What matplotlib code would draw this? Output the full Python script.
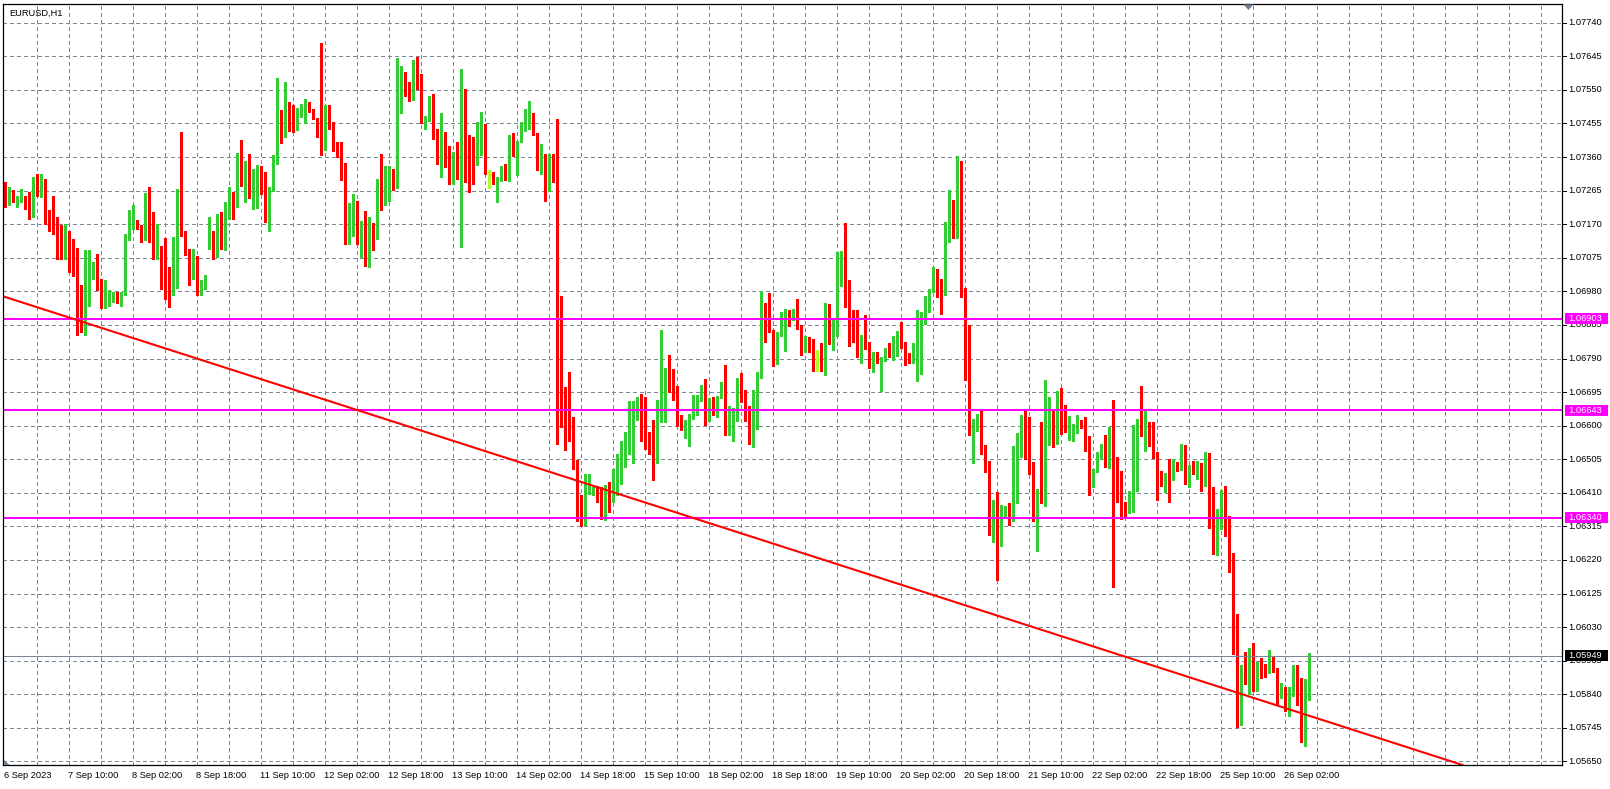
import matplotlib
matplotlib.use("Agg")
import matplotlib.pyplot as plt
import matplotlib.transforms as mtransforms
from matplotlib.patches import Rectangle, Polygon
import numpy as np

# ---------------- data (EURUSD H1, values in pips above BASE) ----------------
BASE = 1.05
PIP = 0.0001

opens_pips = [
    227.2, 225.5, 225.9, 222.0, 223.4, 224.5, 223.2, 221.4, 230.3, 227.0,
    229.2, 218.5, 218.1, 216.0, 214.3, 209.3, 214.1, 205.8, 204.6, 192.8,
    190.9, 202.7, 203.0, 203.0, 198.5, 193.4, 194.5, 195.9, 195.7, 195.0,
    196.9, 213.2, 216.4, 217.4, 216.0, 212.9, 223.7, 215.2, 208.0, 210.8,
    202.3, 200.2, 198.6, 201.8, 227.0, 214.8, 208.2, 203.7, 205.2, 197.1,
    198.8, 213.5, 214.0, 210.8, 215.9, 212.4, 218.7, 223.7, 222.1, 235.0,
    228.7, 232.1, 225.1, 226.5, 232.1, 231.3, 219.3, 226.5, 234.7, 244.9,
    242.0, 250.0, 245.0, 244.4, 248.2, 245.5, 249.6, 249.3, 246.8, 243.5,
    240.4, 250.5, 245.6, 238.6, 236.4, 231.7, 212.7, 213.8, 221.6, 215.5,
    217.4, 205.8, 217.1, 213.0, 225.3, 222.5, 225.1, 231.9, 227.2, 249.9,
    257.9, 255.4, 252.2, 258.5, 257.3, 245.6, 246.6, 251.7, 243.8, 236.4,
    242.8, 235.0, 229.1, 237.2, 235.9, 247.0, 238.1, 237.8, 236.2, 239.7,
    243.9, 231.0, 231.5, 227.9, 229.6, 232.4, 232.4, 239.7, 236.2, 240.2,
    243.9, 246.6, 247.2, 242.5, 232.4, 233.3, 227.9, 234.0, 230.3, 176.1,
    164.3, 163.4, 158.7, 147.8, 136.1, 133.0, 142.2, 140.5, 142.8, 142.2,
    134.2, 141.7, 138.9, 142.7, 146.9, 152.7, 155.6, 160.1, 163.1, 165.3,
    162.4, 155.8, 154.4, 149.9, 161.5, 163.9, 171.9, 171.9, 170.9, 160.3,
    158.9, 158.7, 162.2, 163.4, 167.6, 171.2, 161.8, 164.8, 162.7, 168.4,
    169.0, 157.4, 161.8, 163.1, 172.1, 167.8, 162.9, 156.1, 162.2, 174.2,
    193.5, 191.9, 187.0, 177.5, 185.7, 182.0, 191.4, 190.9, 191.6, 188.2,
    183.2, 184.1, 182.2, 179.0, 179.2, 177.8, 193.3, 184.8, 188.8, 199.8,
    208.3, 198.7, 191.2, 189.1, 182.2, 184.3, 183.8, 176.4, 180.1, 170.0,
    178.2, 181.6, 180.6, 184.1, 185.7, 182.2, 179.1, 177.8, 178.9, 181.0,
    189.8, 195.9, 198.0, 202.7, 201.1, 197.6, 216.1, 219.0, 213.0, 234.3,
    197.9, 185.7, 157.8, 158.7, 163.1, 154.6, 149.7, 130.7, 136.8, 126.7,
    136.1, 136.7, 133.9, 149.7, 154.5, 154.9, 153.0, 149.3, 134.9, 142.2,
    140.3, 159.2, 163.1, 155.2, 165.3, 161.1, 158.7, 156.1, 158.2, 160.9,
    159.6, 157.1, 142.7, 147.4, 150.9, 154.4, 148.0, 158.9, 146.9, 146.0,
    138.0, 135.2, 135.8, 155.2, 160.1, 157.7, 159.0, 155.2, 151.6, 146.4,
    143.1, 148.0, 144.6, 148.3, 147.7, 154.0, 146.0, 148.6, 147.4, 148.3,
    143.1, 145.5, 137.2, 125.0, 134.4, 137.3, 129.9, 121.9, 101.5, 76.7,
    90.2, 88.5, 94.6, 86.6, 92.1, 91.5, 90.8, 93.7, 91.1, 83.8,
    85.8, 79.5, 85.2, 91.8, 86.6, 71.1, 84.7,
]

highs_pips = [
    228.9, 227.5, 226.6, 225.1, 227.0, 225.0, 226.1, 230.3, 231.3, 231.3,
    229.8, 220.9, 225.1, 219.0, 216.7, 217.1, 215.2, 212.9, 210.3, 199.7,
    209.6, 209.6, 206.3, 208.7, 201.6, 201.1, 198.3, 197.8, 197.8, 197.8,
    214.3, 220.9, 222.5, 218.1, 216.7, 225.8, 227.5, 220.4, 217.1, 210.8,
    213.2, 204.9, 213.4, 227.0, 243.2, 215.2, 210.1, 210.1, 208.0, 201.1,
    202.5, 219.0, 215.2, 220.0, 220.4, 223.3, 227.5, 226.1, 237.1, 240.8,
    235.0, 236.9, 232.6, 233.7, 233.6, 231.7, 227.5, 236.6, 258.5, 249.4,
    257.3, 251.6, 250.7, 249.8, 251.0, 252.4, 251.5, 249.6, 247.0, 268.2,
    250.7, 250.7, 245.8, 240.2, 240.2, 234.3, 223.0, 225.6, 223.7, 218.0,
    220.6, 219.0, 217.4, 229.8, 236.9, 233.6, 233.6, 232.6, 264.0, 261.7,
    260.0, 257.1, 263.5, 264.2, 259.5, 247.7, 253.4, 253.8, 243.9, 248.5,
    243.0, 239.2, 237.4, 240.2, 260.9, 255.2, 242.2, 241.6, 245.8, 248.7,
    245.4, 232.2, 231.7, 230.3, 233.6, 234.0, 242.1, 242.8, 240.5, 246.0,
    249.6, 251.9, 248.5, 242.8, 239.7, 236.9, 236.9, 236.9, 246.8, 196.8,
    170.9, 175.2, 162.4, 150.2, 140.3, 146.4, 146.4, 142.7, 142.8, 142.7,
    143.1, 144.1, 147.8, 152.1, 155.8, 158.2, 167.1, 167.1, 168.1, 169.0,
    168.1, 158.2, 161.5, 167.4, 187.2, 176.3, 179.9, 175.9, 171.2, 163.1,
    161.5, 163.4, 168.8, 168.8, 171.6, 173.3, 167.8, 168.1, 168.4, 172.3,
    177.2, 165.7, 165.0, 173.5, 175.0, 170.0, 165.7, 170.0, 175.3, 198.2,
    194.7, 197.6, 187.0, 186.5, 192.1, 193.0, 192.6, 193.1, 195.9, 188.4,
    185.5, 185.1, 184.6, 181.5, 183.5, 194.7, 194.5, 189.8, 209.1, 209.3,
    217.4, 201.1, 192.6, 192.6, 185.7, 191.2, 183.8, 180.8, 180.8, 179.4,
    182.0, 183.5, 185.5, 186.9, 189.3, 183.6, 180.6, 183.5, 192.6, 192.3,
    196.6, 198.7, 204.8, 204.4, 201.5, 217.7, 226.8, 223.9, 236.2, 235.0,
    199.0, 188.6, 162.0, 163.4, 164.1, 154.6, 149.9, 139.1, 141.3, 137.5,
    137.3, 138.2, 154.2, 157.8, 163.1, 164.3, 162.5, 149.7, 142.2, 160.9,
    173.0, 168.1, 164.3, 169.7, 170.7, 165.9, 162.7, 160.6, 162.9, 161.5,
    162.5, 157.1, 147.7, 152.6, 154.9, 157.3, 159.6, 167.4, 151.2, 147.1,
    138.4, 141.5, 160.3, 161.8, 171.2, 164.6, 161.0, 160.9, 152.6, 147.1,
    146.7, 150.7, 150.7, 149.7, 154.9, 154.6, 149.0, 149.9, 149.9, 149.5,
    152.5, 152.3, 142.6, 136.5, 141.7, 142.9, 134.4, 124.1, 106.6, 92.4,
    96.0, 97.0, 98.4, 93.0, 94.3, 92.7, 96.5, 94.6, 91.5, 87.1,
    86.1, 86.1, 92.4, 92.2, 88.5, 88.3, 95.8,
]

lows_pips = [
    221.8, 222.3, 223.3, 221.8, 223.4, 221.4, 218.4, 219.0, 225.1, 224.7,
    217.1, 215.2, 214.3, 207.2, 207.1, 207.2, 203.5, 202.3, 185.6, 186.5,
    185.6, 194.0, 201.6, 198.3, 193.4, 193.4, 194.0, 195.0, 194.8, 193.8,
    196.9, 212.4, 215.7, 215.7, 212.0, 212.4, 211.9, 207.2, 207.2, 198.6,
    195.9, 193.6, 197.1, 198.9, 213.6, 208.2, 199.7, 201.4, 197.1, 196.9,
    198.6, 210.1, 207.2, 207.7, 210.1, 209.6, 218.5, 218.5, 221.8, 227.9,
    223.4, 224.3, 221.3, 221.5, 225.5, 217.6, 215.0, 226.5, 234.0, 240.0,
    241.8, 243.4, 243.2, 243.7, 247.2, 245.5, 248.7, 246.8, 241.6, 236.6,
    238.1, 243.9, 237.8, 235.9, 229.6, 211.4, 211.4, 213.8, 211.4, 207.7,
    205.1, 204.8, 209.6, 212.7, 220.9, 222.5, 223.7, 226.7, 227.2, 248.5,
    253.4, 251.9, 252.2, 255.2, 245.6, 243.9, 246.3, 241.1, 234.0, 230.3,
    233.1, 228.4, 228.4, 229.8, 210.5, 228.9, 226.2, 228.4, 233.8, 236.6,
    231.2, 227.2, 228.4, 223.4, 229.3, 229.6, 229.3, 236.2, 230.8, 240.2,
    243.5, 243.9, 242.1, 232.2, 231.2, 223.7, 226.5, 228.9, 154.9, 159.6,
    153.0, 155.8, 147.8, 133.0, 131.5, 131.8, 140.8, 140.3, 138.4, 133.7,
    133.2, 135.6, 138.4, 140.3, 143.6, 148.3, 152.1, 149.3, 161.5, 155.8,
    153.5, 152.1, 144.5, 149.3, 161.0, 161.0, 169.5, 167.4, 159.9, 158.9,
    156.5, 154.2, 161.8, 163.1, 167.1, 160.3, 161.2, 163.1, 162.4, 167.8,
    157.4, 157.3, 155.6, 161.2, 166.7, 161.2, 154.9, 154.0, 159.0, 173.5,
    183.8, 186.5, 177.0, 177.5, 185.3, 181.0, 188.2, 189.8, 187.4, 180.1,
    180.8, 180.8, 175.6, 175.6, 175.6, 174.2, 183.2, 181.3, 185.5, 199.6,
    193.5, 182.5, 183.6, 179.4, 177.8, 181.6, 176.4, 175.3, 177.8, 169.7,
    178.2, 179.4, 178.5, 179.7, 181.9, 177.2, 177.8, 177.8, 172.5, 174.7,
    188.8, 192.3, 197.8, 196.4, 191.5, 197.0, 212.1, 213.0, 213.0, 196.5,
    172.8, 157.3, 149.3, 158.4, 152.1, 146.9, 129.2, 127.1, 116.3, 126.0,
    133.9, 132.0, 133.0, 138.0, 151.2, 150.7, 146.2, 133.0, 124.5, 138.2,
    137.3, 154.5, 154.0, 154.9, 157.7, 158.2, 155.9, 155.6, 158.0, 159.3,
    152.8, 140.3, 142.7, 146.9, 150.7, 148.3, 147.9, 114.4, 138.4, 133.5,
    134.2, 135.2, 135.6, 141.5, 157.1, 152.8, 154.3, 150.9, 138.9, 143.0,
    141.1, 138.4, 144.6, 147.1, 147.4, 143.6, 142.7, 146.2, 145.0, 141.4,
    142.9, 131.1, 123.8, 123.5, 130.9, 128.8, 118.6, 95.3, 74.8, 75.3,
    86.8, 84.2, 84.9, 84.9, 88.7, 88.9, 89.9, 90.4, 80.9, 83.0,
    79.2, 77.9, 83.6, 81.1, 70.6, 69.4, 82.4,
]

closes_pips = [
    225.1, 226.1, 225.5, 224.0, 224.5, 223.1, 221.4, 230.3, 227.0, 229.2,
    218.4, 218.1, 215.7, 214.6, 209.6, 214.1, 205.4, 204.6, 192.6, 190.9,
    202.7, 203.2, 203.3, 198.6, 193.4, 194.5, 195.5, 196.0, 194.8, 197.1,
    213.5, 216.9, 217.4, 215.7, 212.9, 223.7, 215.0, 207.9, 210.8, 202.3,
    200.0, 198.6, 201.8, 227.0, 214.3, 208.2, 203.7, 205.2, 197.1, 198.8,
    199.9, 214.6, 211.0, 215.7, 212.4, 218.7, 223.7, 222.3, 235.0, 228.4,
    232.1, 225.1, 228.1, 232.1, 231.2, 219.5, 227.2, 235.0, 244.9, 242.0,
    250.0, 244.9, 244.4, 248.4, 249.3, 249.9, 249.0, 247.0, 243.2, 240.4,
    250.5, 245.4, 238.5, 236.2, 231.9, 212.7, 214.0, 221.6, 215.5, 217.1,
    206.3, 217.1, 213.3, 225.1, 222.5, 225.3, 231.9, 227.0, 254.1, 258.3,
    255.1, 252.2, 258.5, 256.7, 245.6, 246.6, 251.7, 243.8, 236.4, 242.8,
    235.0, 229.1, 237.2, 235.9, 247.0, 238.1, 237.5, 235.7, 240.0, 244.2,
    231.2, 231.0, 228.7, 229.8, 232.4, 232.2, 239.4, 236.4, 240.4, 243.9,
    246.8, 247.3, 242.2, 232.4, 233.3, 227.7, 234.5, 230.2, 175.6, 163.9,
    163.4, 158.2, 147.8, 136.1, 132.8, 142.2, 143.6, 142.2, 142.2, 134.2,
    142.7, 138.9, 142.4, 146.9, 153.0, 155.8, 160.1, 163.4, 165.3, 162.2,
    155.6, 154.2, 149.7, 161.5, 163.9, 171.9, 171.6, 170.9, 160.1, 158.9,
    160.8, 162.2, 163.9, 167.6, 171.2, 161.5, 164.8, 163.1, 168.4, 169.0,
    157.4, 161.8, 163.4, 172.1, 167.1, 162.7, 156.1, 162.2, 174.4, 193.5,
    191.6, 186.5, 177.5, 186.0, 191.6, 191.6, 190.5, 191.4, 187.7, 183.2,
    184.1, 181.8, 179.1, 179.0, 177.8, 193.5, 184.8, 188.8, 199.8, 208.6,
    198.5, 190.7, 188.8, 182.2, 184.3, 183.9, 176.4, 180.1, 178.2, 178.2,
    181.6, 180.3, 184.3, 185.7, 182.0, 178.7, 177.8, 179.1, 181.3, 190.0,
    195.6, 198.0, 202.7, 201.1, 197.3, 216.4, 219.0, 213.0, 234.3, 197.9,
    185.5, 157.8, 159.8, 162.9, 154.5, 149.3, 130.7, 136.8, 126.7, 136.4,
    136.7, 133.9, 149.9, 154.6, 154.9, 152.7, 149.9, 134.9, 141.7, 140.3,
    159.3, 163.1, 154.9, 165.3, 160.9, 158.7, 160.6, 158.2, 160.9, 159.6,
    157.1, 142.7, 147.4, 150.9, 154.4, 148.3, 159.2, 146.2, 145.8, 138.0,
    134.9, 135.9, 155.2, 160.1, 157.5, 159.2, 154.9, 151.2, 146.2, 143.1,
    146.4, 144.8, 148.3, 147.4, 154.0, 146.0, 148.3, 147.4, 148.0, 143.1,
    145.5, 137.2, 125.0, 134.4, 137.0, 129.9, 121.4, 101.5, 76.7, 89.9,
    88.5, 94.6, 86.4, 92.1, 91.3, 90.5, 93.2, 90.8, 83.8, 85.8,
    79.8, 85.2, 92.1, 86.6, 71.1, 84.9, 94.9,
]

title_text = "EURUSD,H1"

price_tick_labels = [
    "1.07740", "1.07645", "1.07550", "1.07455", "1.07360", "1.07265",
    "1.07170", "1.07075", "1.06980", "1.06885", "1.06790", "1.06695",
    "1.06600", "1.06505", "1.06410", "1.06315", "1.06220", "1.06125",
    "1.06030", "1.05935", "1.05840", "1.05745", "1.05650",
]

date_label_bars = [0, 16, 32, 48, 64, 80, 96, 112, 128, 144, 160,
                   176, 192, 208, 224, 240, 256, 272, 288, 304, 320]
date_labels = [
    "6 Sep 2023", "7 Sep 10:00", "8 Sep 02:00", "8 Sep 18:00",
    "11 Sep 10:00", "12 Sep 02:00", "12 Sep 18:00", "13 Sep 10:00",
    "14 Sep 02:00", "14 Sep 18:00", "15 Sep 10:00", "18 Sep 02:00",
    "18 Sep 18:00", "19 Sep 10:00", "20 Sep 02:00", "20 Sep 18:00",
    "21 Sep 10:00", "22 Sep 02:00", "22 Sep 18:00", "25 Sep 10:00",
    "26 Sep 02:00",
]

level_prices = [1.06903, 1.06643, 1.06340]
level_labels = ["1.06903", "1.06643", "1.06340"]
bid_price = 1.05949
bid_label = "1.05949"
trend_bars = [0, 320]
trend_prices = [1.06964, 1.05801]

# ---------------- layout ----------------
W, H = 1610, 789
L_PX, R_PX, T_PX, B_PX = 3, 1562, 4, 765
BAR0_PX, BAR_STEP = 5.3, 4.0
Y_TOP, Y_BOT = 1.07793, 1.05640

GRID = "#778899"
BULL = "#32CD32"
BEAR = "#FF0000"
DOJI = "#ADFF2F"
FONT = ["Liberation Sans", "DejaVu Sans"]
FS = 6.7

fig = plt.figure(figsize=(W / 100, H / 100), dpi=100)
fig.patch.set_facecolor("white")
ax = fig.add_axes([L_PX / W, 1 - B_PX / H, (R_PX - L_PX) / W, (B_PX - T_PX) / H])
x0 = (L_PX - BAR0_PX) / BAR_STEP
x1 = (R_PX - BAR0_PX) / BAR_STEP
ax.set_xlim(x0, x1)
ax.set_ylim(Y_BOT, Y_TOP)
ax.set_xticks([])
ax.set_yticks([])
for sp in ax.spines.values():
    sp.set_color("black")
    sp.set_linewidth(0.9)
    sp.set_zorder(10)

dpp = (Y_TOP - Y_BOT) / (B_PX - T_PX)  # price per pixel

# grid
tick_vals = [float(s) for s in price_tick_labels]
ax.hlines(tick_vals, x0, x1, colors=GRID, linestyles=(0, (4, 3)), linewidth=0.72,
          antialiased=False, zorder=1)
vgrid = np.arange(8, x1, 8)
ax.vlines(vgrid, Y_BOT, Y_TOP, colors=GRID, linestyles=(0, (4, 3)), linewidth=0.72,
          antialiased=False, zorder=1)

# candles
n = min(len(opens_pips), len(highs_pips), len(lows_pips), len(closes_pips))
o = BASE + np.array(opens_pips[:n]) * PIP
h = BASE + np.array(highs_pips[:n]) * PIP
l = BASE + np.array(lows_pips[:n]) * PIP
c = BASE + np.array(closes_pips[:n]) * PIP
xs = np.arange(n)
cols = np.where(c > o, BULL, np.where(c < o, BEAR, DOJI))
ax.vlines(xs, l, h, colors=cols, linewidth=0.75, antialiased=False, zorder=3)
bottoms = np.minimum(o, c)
heights = np.maximum(np.abs(c - o), dpp * 1.0)
body = c != o
ax.bar(xs[body], heights[body], bottom=bottoms[body], width=0.82,
       color=cols[body], linewidth=0, antialiased=False, zorder=3)
dj = ~body
ax.hlines(o[dj], xs[dj] - 0.41, xs[dj] + 0.41, colors=DOJI, linewidth=0.75,
          antialiased=False, zorder=3)

# objects
for p in level_prices:
    ax.axhline(p, color="#FF00FF", linewidth=1.44, zorder=4)
ax.axhline(bid_price, color=GRID, linewidth=0.75, zorder=4)
ax.axline((trend_bars[0], trend_prices[0]), (trend_bars[1], trend_prices[1]),
          color="#FF0000", linewidth=1.5, zorder=5)

# right price scale
ty = mtransforms.blended_transform_factory(fig.transFigure, ax.transData)
for v, s in zip(tick_vals, price_tick_labels):
    ax.plot([(R_PX + 0.5) / W, (R_PX + 4) / W], [v, v], transform=ty,
            color="black", linewidth=0.72, clip_on=False, zorder=6)
    ax.text((R_PX + 6.5) / W, v, s, transform=ty, ha="left", va="center",
            fontsize=FS, family=FONT, color="black", clip_on=False, zorder=6)

def price_box(p, txt, face):
    ax.add_patch(Rectangle(((R_PX + 2.5) / W, p - 5.5 * dpp), 43 / W, 11 * dpp,
                           transform=ty, facecolor=face, edgecolor="none",
                           clip_on=False, zorder=7))
    ax.text((R_PX + 6.5) / W, p, txt, transform=ty, ha="left", va="center",
            fontsize=FS, family=FONT, color="white", clip_on=False, zorder=8)

for p, s in zip(level_prices, level_labels):
    price_box(p, s, "#FF00FF")
price_box(bid_price, bid_label, "black")

# time scale
tx = mtransforms.blended_transform_factory(ax.transData, fig.transFigure)
for b, s in zip(date_label_bars, date_labels):
    xb = b - 0.35 if b > 0 else (4 - BAR0_PX) / BAR_STEP
    ax.text(xb, 1 - 775.5 / H, s, transform=tx, ha="left", va="center",
            fontsize=FS, family=FONT, color="black", clip_on=False)

# title
fig.text(9 / W, 1 - 13.5 / H, title_text, ha="left", va="center",
         fontsize=FS, family=FONT, color="black")

# chart shift marker (top) and corner marker (bottom-left)
def px(xp, yp):
    return (xp / W, 1 - yp / H)

fig.add_artist(Polygon([px(1243.5, 4.5), px(1253.5, 4.5), px(1248.5, 10)],
                       closed=True, transform=fig.transFigure,
                       facecolor="#708090", edgecolor="none", zorder=11))
fig.add_artist(Polygon([px(4, 765), px(4, 760), px(9.5, 765)],
                       closed=True, transform=fig.transFigure,
                       facecolor="#708090", edgecolor="none", zorder=11))

fig.savefig("out.png", dpi=100, facecolor="white")
